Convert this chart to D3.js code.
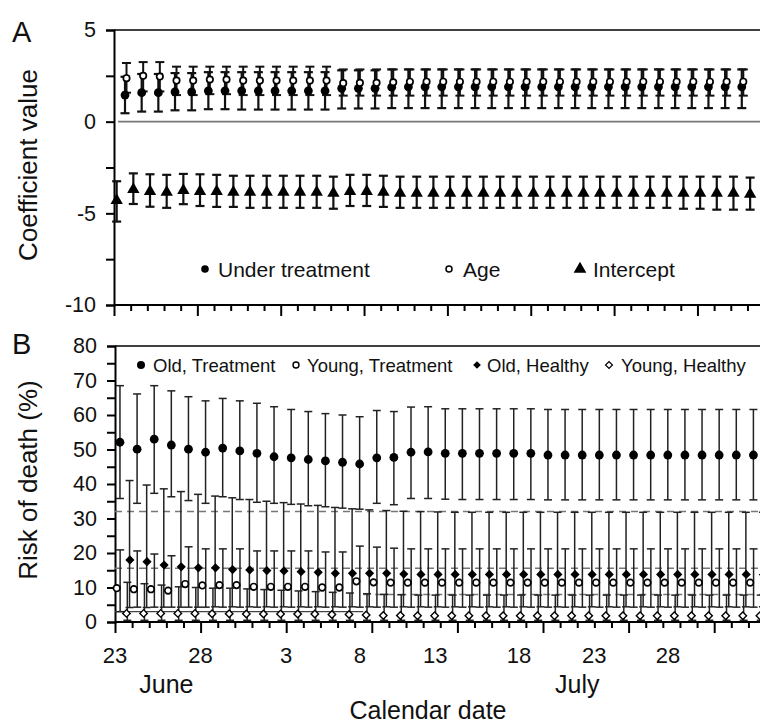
<!DOCTYPE html>
<html>
<head>
<meta charset="utf-8">
<script src="https://cdn.jsdelivr.net/npm/d3@7/dist/d3.min.js"></script>
<style>
    body { margin: 0; background: #fff; }
    svg text { font-family: "Liberation Sans", Arial, sans-serif; fill: #111; }
</style>
</head>
<body>
<div id="chart"></div>
<script>
// ---- values (index = day since 23 June) ----

// panel A: regression coefficients
const intercept   = [-4.3,-3.7,-3.8,-3.85,-3.75,-3.8,-3.8,-3.85,-3.85,-3.85,-3.85,-3.85,-3.85,-3.9,-3.8,-3.8,-3.85,-3.9,-3.9,-3.9,-3.9,-3.9,-3.9,-3.9,-3.9,-3.9,-3.9,-3.9,-3.9,-3.9,-3.9,-3.9,-3.9,-3.9,-3.9,-3.9,-3.9,-3.9,-3.95];
const interceptHi = [-3.25,-2.82,-2.87,-2.9,-2.85,-2.87,-2.9,-2.95,-2.95,-2.95,-2.95,-2.95,-2.95,-3.0,-2.9,-2.9,-2.95,-3.0,-3.0,-3.0,-3.0,-3.0,-3.0,-3.0,-3.0,-3.0,-3.0,-3.0,-3.0,-3.0,-3.0,-3.0,-3.0,-3.0,-3.0,-3.0,-3.0,-3.0,-3.05];
const interceptLo = [-5.45,-4.49,-4.64,-4.7,-4.5,-4.6,-4.65,-4.65,-4.7,-4.7,-4.7,-4.7,-4.7,-4.75,-4.6,-4.6,-4.65,-4.7,-4.7,-4.7,-4.7,-4.7,-4.7,-4.7,-4.7,-4.7,-4.7,-4.7,-4.7,-4.7,-4.7,-4.7,-4.7,-4.7,-4.75,-4.75,-4.8,-4.8,-4.8];

const underTreat   = [1.45,1.58,1.58,1.62,1.62,1.68,1.68,1.68,1.68,1.68,1.68,1.68,1.68,1.82,1.82,1.82,1.88,1.9,1.9,1.9,1.9,1.9,1.9,1.9,1.9,1.9,1.9,1.9,1.9,1.9,1.9,1.9,1.9,1.9,1.9,1.9,1.9,1.9];
const underTreatHi = [2.45,2.6,2.6,2.65,2.65,2.7,2.7,2.7,2.7,2.7,2.7,2.7,2.7,2.8,2.8,2.8,2.85,2.85,2.85,2.85,2.85,2.85,2.85,2.85,2.85,2.85,2.85,2.85,2.85,2.85,2.85,2.85,2.85,2.85,2.85,2.85,2.85,2.85];
const underTreatLo = [0.46,0.55,0.55,0.62,0.62,0.68,0.68,0.66,0.66,0.66,0.66,0.66,0.66,0.72,0.72,0.72,0.74,0.74,0.74,0.74,0.74,0.74,0.74,0.74,0.74,0.74,0.74,0.74,0.74,0.74,0.74,0.74,0.74,0.74,0.74,0.74,0.74,0.74];

const age   = [2.37,2.5,2.46,2.24,2.24,2.3,2.3,2.24,2.24,2.24,2.24,2.24,2.24,2.1,2.12,2.12,2.15,2.18,2.18,2.18,2.18,2.18,2.18,2.18,2.18,2.18,2.18,2.18,2.18,2.18,2.18,2.18,2.18,2.18,2.18,2.18,2.18,2.18];
const ageHi = [3.2,3.25,3.25,3.0,3.0,3.0,3.0,3.0,3.0,3.0,3.0,3.0,3.0,2.85,2.85,2.85,2.85,2.85,2.85,2.85,2.85,2.85,2.85,2.85,2.85,2.85,2.85,2.85,2.85,2.85,2.85,2.85,2.85,2.85,2.85,2.85,2.85,2.85];
const ageLo = [1.58,1.65,1.65,1.45,1.45,1.5,1.5,1.45,1.45,1.45,1.45,1.45,1.45,1.42,1.42,1.42,1.42,1.42,1.42,1.42,1.42,1.42,1.42,1.42,1.42,1.42,1.42,1.42,1.42,1.42,1.42,1.42,1.42,1.42,1.42,1.42,1.42,1.42];

// panel B: risk of death (%)
const oldTreat   = [52.1,50.1,53.0,51.3,50.1,49.2,50.4,49.6,48.9,47.9,47.6,47.1,46.7,46.3,45.8,47.6,47.7,49.2,49.3,48.9,48.9,48.9,48.9,48.9,48.9,48.4,48.4,48.4,48.4,48.4,48.4,48.4,48.4,48.4,48.4,48.4,48.4,48.4,48.4];
const oldTreatHi = [68.5,66.1,68.5,67.0,65.3,64.1,64.8,64.1,63.4,62.4,61.6,61.0,60.4,60.0,59.5,61.3,61.0,62.3,62.4,61.8,61.8,61.8,61.8,61.8,61.8,61.6,61.6,61.6,61.6,61.6,61.6,61.6,61.6,61.6,61.6,61.6,61.6,61.6,61.6];
const oldTreatLo = [35.8,34.4,37.3,36.3,35.2,34.4,36.3,35.5,34.7,34.4,34.1,33.7,33.4,33.0,32.7,34.4,34.0,35.8,35.8,35.6,35.5,35.5,35.5,35.5,35.5,35.4,35.4,35.4,35.4,35.4,35.4,35.4,35.4,35.4,35.4,35.4,35.4,35.4,35.4];

const youngTreat   = [9.8,9.5,9.5,9.1,11.0,10.6,10.7,10.7,10.2,10.2,10.2,10.2,10.0,10.0,11.8,11.5,11.4,11.4,11.4,11.4,11.4,11.4,11.4,11.4,11.4,11.4,11.4,11.4,11.4,11.4,11.4,11.4,11.4,11.4,11.4,11.4,11.4,11.4,11.4];
const youngTreatHi = [20.9,20.6,19.7,19.2,21.8,21.2,21.2,21.2,20.6,20.6,20.6,20.6,20.3,20.3,22.0,21.7,21.4,21.2,21.2,21.2,21.2,21.2,21.2,21.2,21.2,21.2,21.2,21.2,21.2,21.2,21.2,21.2,21.2,21.2,21.2,21.2,21.2,21.2,21.2];
const youngTreatLo = [3.0,4.3,4.3,4.3,4.3,4.3,4.3,4.3,4.3,4.3,4.3,4.3,4.3,4.3,4.3,4.3,4.3,4.3,4.3,4.3,4.3,4.3,4.3,4.3,4.3,4.3,4.3,4.3,4.3,4.3,4.3,4.3,4.3,4.3,4.3,4.3,4.3,4.3,4.3];

const oldHealthy   = [18.0,17.5,16.5,16.0,15.7,15.7,15.2,15.1,14.9,14.8,14.6,14.4,14.1,14.1,14.1,14.1,13.9,13.8,13.8,13.8,13.8,13.8,13.8,13.8,13.8,13.8,13.8,13.8,13.8,13.8,13.8,13.8,13.8,13.8,13.8,13.8,13.8,13.8,13.8];
const oldHealthyHi = [41.0,39.7,38.6,37.8,37.0,36.5,36.0,35.5,35.0,34.6,34.2,33.8,33.2,32.8,32.5,32.3,32.1,32.0,31.9,31.8,31.8,31.8,31.8,31.8,31.8,31.8,31.8,31.8,31.8,31.8,31.8,31.8,31.8,31.8,31.8,31.8,31.8,31.8,31.8];
const oldHealthyLo = [4.2,4.2,4.3,4.3,4.3,4.4,4.4,4.4,4.4,4.4,4.4,4.4,4.4,4.4,4.4,4.4,4.4,4.4,4.4,4.4,4.4,4.4,4.4,4.4,4.4,4.4,4.4,4.4,4.4,4.4,4.4,4.4,4.4,4.4,4.4,4.4,4.4,4.4,4.4];

const youngHealthy   = [2.5,2.5,2.5,2.5,2.5,2.4,2.4,2.3,2.3,2.3,2.3,2.3,2.2,2.2,2.0,1.9,1.9,1.8,1.8,1.8,1.8,1.8,1.8,1.8,1.8,1.8,1.8,1.8,1.8,1.8,1.8,1.8,1.8,1.8,1.8,1.8,1.8,1.8,1.8];
const youngHealthyHi = [11.5,11.1,10.7,10.2,10.0,9.8,9.8,9.6,9.4,9.2,9.0,8.8,8.6,8.4,8.2,8.0,7.9,7.8,7.8,7.8,7.8,7.8,7.8,7.8,7.8,7.8,7.8,7.8,7.8,7.8,7.8,7.8,7.8,7.8,7.8,7.8,7.8,7.8,7.8];
const youngHealthyLo = [0.5,0.5,0.5,0.5,0.5,0.5,0.5,0.5,0.5,0.5,0.5,0.5,0.5,0.5,0.5,0.5,0.5,0.5,0.5,0.5,0.5,0.5,0.5,0.5,0.5,0.5,0.5,0.5,0.5,0.5,0.5,0.5,0.5,0.5,0.5,0.5,0.5,0.5,0.5];

// reference lines in panel B (value, first day, last day, dashed or not)
const refValues = [32.0, 15.6, 8.0, 3.0];
const refFrom   = [0, 0, 14.5, 0];
const refTo     = [39, 39, 39, 14.5];
const refDashed = [true, true, true, false];

// date axis text
const dayTickLabels = ["23", "28", "3", "8", "13", "18", "23", "28"];
const dayTickAt     = [0, 5, 10, 14.3, 18.7, 23.6, 28, 32.3];
const monthLabels   = ["June", "July"];
const monthAt       = [3, 27];

// ---- drawing ----
const W = 760, H = 723;
const svg = d3.select("#chart").append("svg").attr("width", W).attr("height", H);

const xA = d3.scaleLinear().domain([0, 38]).range([114, 114 + 16.67 * 38]);
const yA = d3.scaleLinear().domain([-10, 5]).range([305, 30]);
const xB = d3.scaleLinear().domain([0, 38]).range([115, 115 + 17.12 * 38]);
const yB = d3.scaleLinear().domain([0, 80]).range([622, 346]);

function errorBars(g, x, y, lo, hi, off, cap, color, width) {
    const rows = lo.map((l, i) => ({i: i, lo: l, hi: hi[i]}));
    const b = g.append("g").attr("stroke", color).attr("stroke-width", width).attr("fill", "none");
    b.selectAll(".v").data(rows).join("line")
        .attr("x1", d => x(d.i + off)).attr("x2", d => x(d.i + off))
        .attr("y1", d => y(d.lo)).attr("y2", d => y(d.hi));
    b.selectAll(".t").data(rows).join("line")
        .attr("x1", d => x(d.i + off) - cap).attr("x2", d => x(d.i + off) + cap)
        .attr("y1", d => y(d.hi)).attr("y2", d => y(d.hi));
    b.selectAll(".b").data(rows).join("line")
        .attr("x1", d => x(d.i + off) - cap).attr("x2", d => x(d.i + off) + cap)
        .attr("y1", d => y(d.lo)).attr("y2", d => y(d.lo));
}

function markers(g, x, y, vals, off, kind, sz) {
    const rows = vals.map((v, i) => ({i: i, v: v}));
    const s = g.append("g");
    if (kind === "dot" || kind === "ring") {
        s.selectAll("circle").data(rows).join("circle")
            .attr("cx", d => x(d.i + off)).attr("cy", d => y(d.v)).attr("r", sz)
            .attr("fill", kind === "dot" ? "#000" : "#fff")
            .attr("stroke", "#000").attr("stroke-width", kind === "dot" ? 0 : 1.7);
    } else {
        const sym = kind === "tri" ? d3.symbolTriangle : d3.symbolSquare;
        const rot = kind === "tri" ? 0 : 45;
        s.selectAll("path").data(rows).join("path")
            .attr("d", d3.symbol(sym, sz))
            .attr("transform", d => `translate(${x(d.i + off)},${y(d.v)}) rotate(${rot})`)
            .attr("fill", kind === "odia" ? "#fff" : "#000")
            .attr("stroke", "#000").attr("stroke-width", kind === "odia" ? 1.4 : 0);
    }
}

function frame(x, y, yTicks, labelEvery, top, bottom) {
    const g = svg.append("g");
    // left axis
    const ax = g.append("g").attr("transform", `translate(${x.range()[0]},0)`)
        .call(d3.axisLeft(y).tickValues(yTicks).tickSize(8).tickPadding(10)
            .tickFormat(d => d % labelEvery === 0 ? String(d) : ""));
    ax.select(".domain").attr("stroke-width", 2);
    ax.selectAll(".tick line").attr("stroke-width", 2);
    ax.selectAll("text").attr("font-size", 21.5).attr("fill", "#111");
    // bottom axis, day ticks
    const days = d3.range(0, 39);
    const bx = g.append("g").attr("transform", `translate(0,${bottom})`);
    bx.call(d3.axisBottom(x).tickValues(days.filter(d => d % 5 !== 0)).tickSize(6).tickFormat(""));
    bx.append("g").call(d3.axisBottom(x).tickValues(days.filter(d => d % 5 === 0)).tickSize(11).tickFormat(""));
    bx.selectAll(".domain").attr("d", `M${x.range()[0]},0H${W}`).attr("stroke-width", 2);
    bx.selectAll(".tick line").attr("stroke-width", 2);
    // top border
    g.append("line").attr("x1", x.range()[0]).attr("x2", W).attr("y1", top).attr("y2", top)
        .attr("stroke", "#000").attr("stroke-width", 1.6);
    return g;
}

// ---------- panel A ----------
frame(xA, yA, [-10, -7.5, -5, -2.5, 0, 2.5, 5], 5, yA(5), yA(-10));
svg.append("line").attr("x1", xA(0) + 4).attr("x2", W).attr("y1", yA(0)).attr("y2", yA(0))
    .attr("stroke", "#777").attr("stroke-width", 1.6);

const gA = svg.append("g");
errorBars(gA, xA, yA, interceptLo, interceptHi, 0.16, 4.5, "#111", 2.2);
errorBars(gA, xA, yA, underTreatLo, underTreatHi, 0.66, 4.5, "#111", 2.2);
errorBars(gA, xA, yA, ageLo, ageHi, 0.75, 4.5, "#111", 2);
markers(gA, xA, yA, intercept, 0.16, "tri", 66);
markers(gA, xA, yA, underTreat, 0.66, "dot", 4.4);
markers(gA, xA, yA, age, 0.75, "ring", 3.2);

// legend A
const legA = svg.append("g").attr("font-size", 21);
legA.append("circle").attr("cx", 205).attr("cy", 269).attr("r", 3.8).attr("fill", "#000");
legA.append("text").attr("x", 218).attr("y", 277).text("Under treatment");
legA.append("circle").attr("cx", 449).attr("cy", 269).attr("r", 3).attr("fill", "#fff").attr("stroke", "#000").attr("stroke-width", 1.5);
legA.append("text").attr("x", 463).attr("y", 277).text("Age");
legA.append("path").attr("d", d3.symbol(d3.symbolTriangle, 70)).attr("transform", "translate(580,269)").attr("fill", "#000");
legA.append("text").attr("x", 593).attr("y", 277).text("Intercept");

// ---------- panel B ----------
frame(xB, yB, d3.range(0, 81, 5), 10, yB(80), yB(0));

const gB = svg.append("g");
gB.selectAll("line.ref").data(refValues).join("line")
    .attr("x1", (d, i) => xB(refFrom[i])).attr("x2", (d, i) => xB(refTo[i]))
    .attr("y1", d => yB(d)).attr("y2", d => yB(d))
    .attr("stroke", (d, i) => refDashed[i] ? "#777" : "#444")
    .attr("stroke-width", (d, i) => refDashed[i] ? 1.5 : 1.3)
    .attr("stroke-dasharray", (d, i) => refDashed[i] ? "7,5" : null);

errorBars(gB, xB, yB, oldTreatLo, oldTreatHi, 0.29, 4, "#222", 1.5);
errorBars(gB, xB, yB, oldHealthyLo, oldHealthyHi, 0.85, 4, "#222", 1.5);
errorBars(gB, xB, yB, youngTreatLo, youngTreatHi, 0.3, 4, "#222", 1.5);
errorBars(gB, xB, yB, youngHealthyLo, youngHealthyHi, 0.72, 4, "#222", 1.5);
markers(gB, xB, yB, oldTreat, 0.29, "dot", 4.4);
markers(gB, xB, yB, oldHealthy, 0.87, "dia", 42);
markers(gB, xB, yB, youngTreat, 0.1, "ring", 3.3);
markers(gB, xB, yB, youngHealthy, 0.67, "odia", 28);

// legend B
const legB = svg.append("g").attr("font-size", 18.5);
legB.append("circle").attr("cx", 141).attr("cy", 365).attr("r", 4).attr("fill", "#000");
legB.append("text").attr("x", 153).attr("y", 372).text("Old, Treatment");
legB.append("circle").attr("cx", 296).attr("cy", 365).attr("r", 3).attr("fill", "#fff").attr("stroke", "#000").attr("stroke-width", 1.4);
legB.append("text").attr("x", 307).attr("y", 372).text("Young, Treatment");
legB.append("path").attr("d", d3.symbol(d3.symbolSquare, 30)).attr("transform", "translate(477,365) rotate(45)").attr("fill", "#000");
legB.append("text").attr("x", 487).attr("y", 372).text("Old, Healthy");
legB.append("path").attr("d", d3.symbol(d3.symbolSquare, 24)).attr("transform", "translate(609,365) rotate(45)")
    .attr("fill", "#fff").attr("stroke", "#000").attr("stroke-width", 1.2);
legB.append("text").attr("x", 621).attr("y", 372).text("Young, Healthy");

// date labels under panel B
svg.append("g").attr("font-size", 22).attr("text-anchor", "middle")
    .selectAll("text").data(dayTickLabels).join("text")
    .attr("x", (d, i) => xB(dayTickAt[i])).attr("y", 663).text(d => d);
svg.append("g").attr("font-size", 25).attr("text-anchor", "middle")
    .selectAll("text").data(monthLabels).join("text")
    .attr("x", (d, i) => xB(monthAt[i])).attr("y", 693).text(d => d);
svg.append("text").attr("x", 428).attr("y", 719).attr("font-size", 25).attr("text-anchor", "middle").text("Calendar date");

// axis titles and panel letters
svg.append("text").attr("transform", "translate(37,165) rotate(-90)").attr("font-size", 26)
    .attr("text-anchor", "middle").text("Coefficient value");
svg.append("text").attr("transform", "translate(37,480) rotate(-90)").attr("font-size", 26)
    .attr("text-anchor", "middle").text("Risk of death (%)");
svg.append("text").attr("x", 12).attr("y", 42).attr("font-size", 29).text("A");
svg.append("text").attr("x", 12).attr("y", 354).attr("font-size", 29).text("B");
</script>
</body>
</html>
